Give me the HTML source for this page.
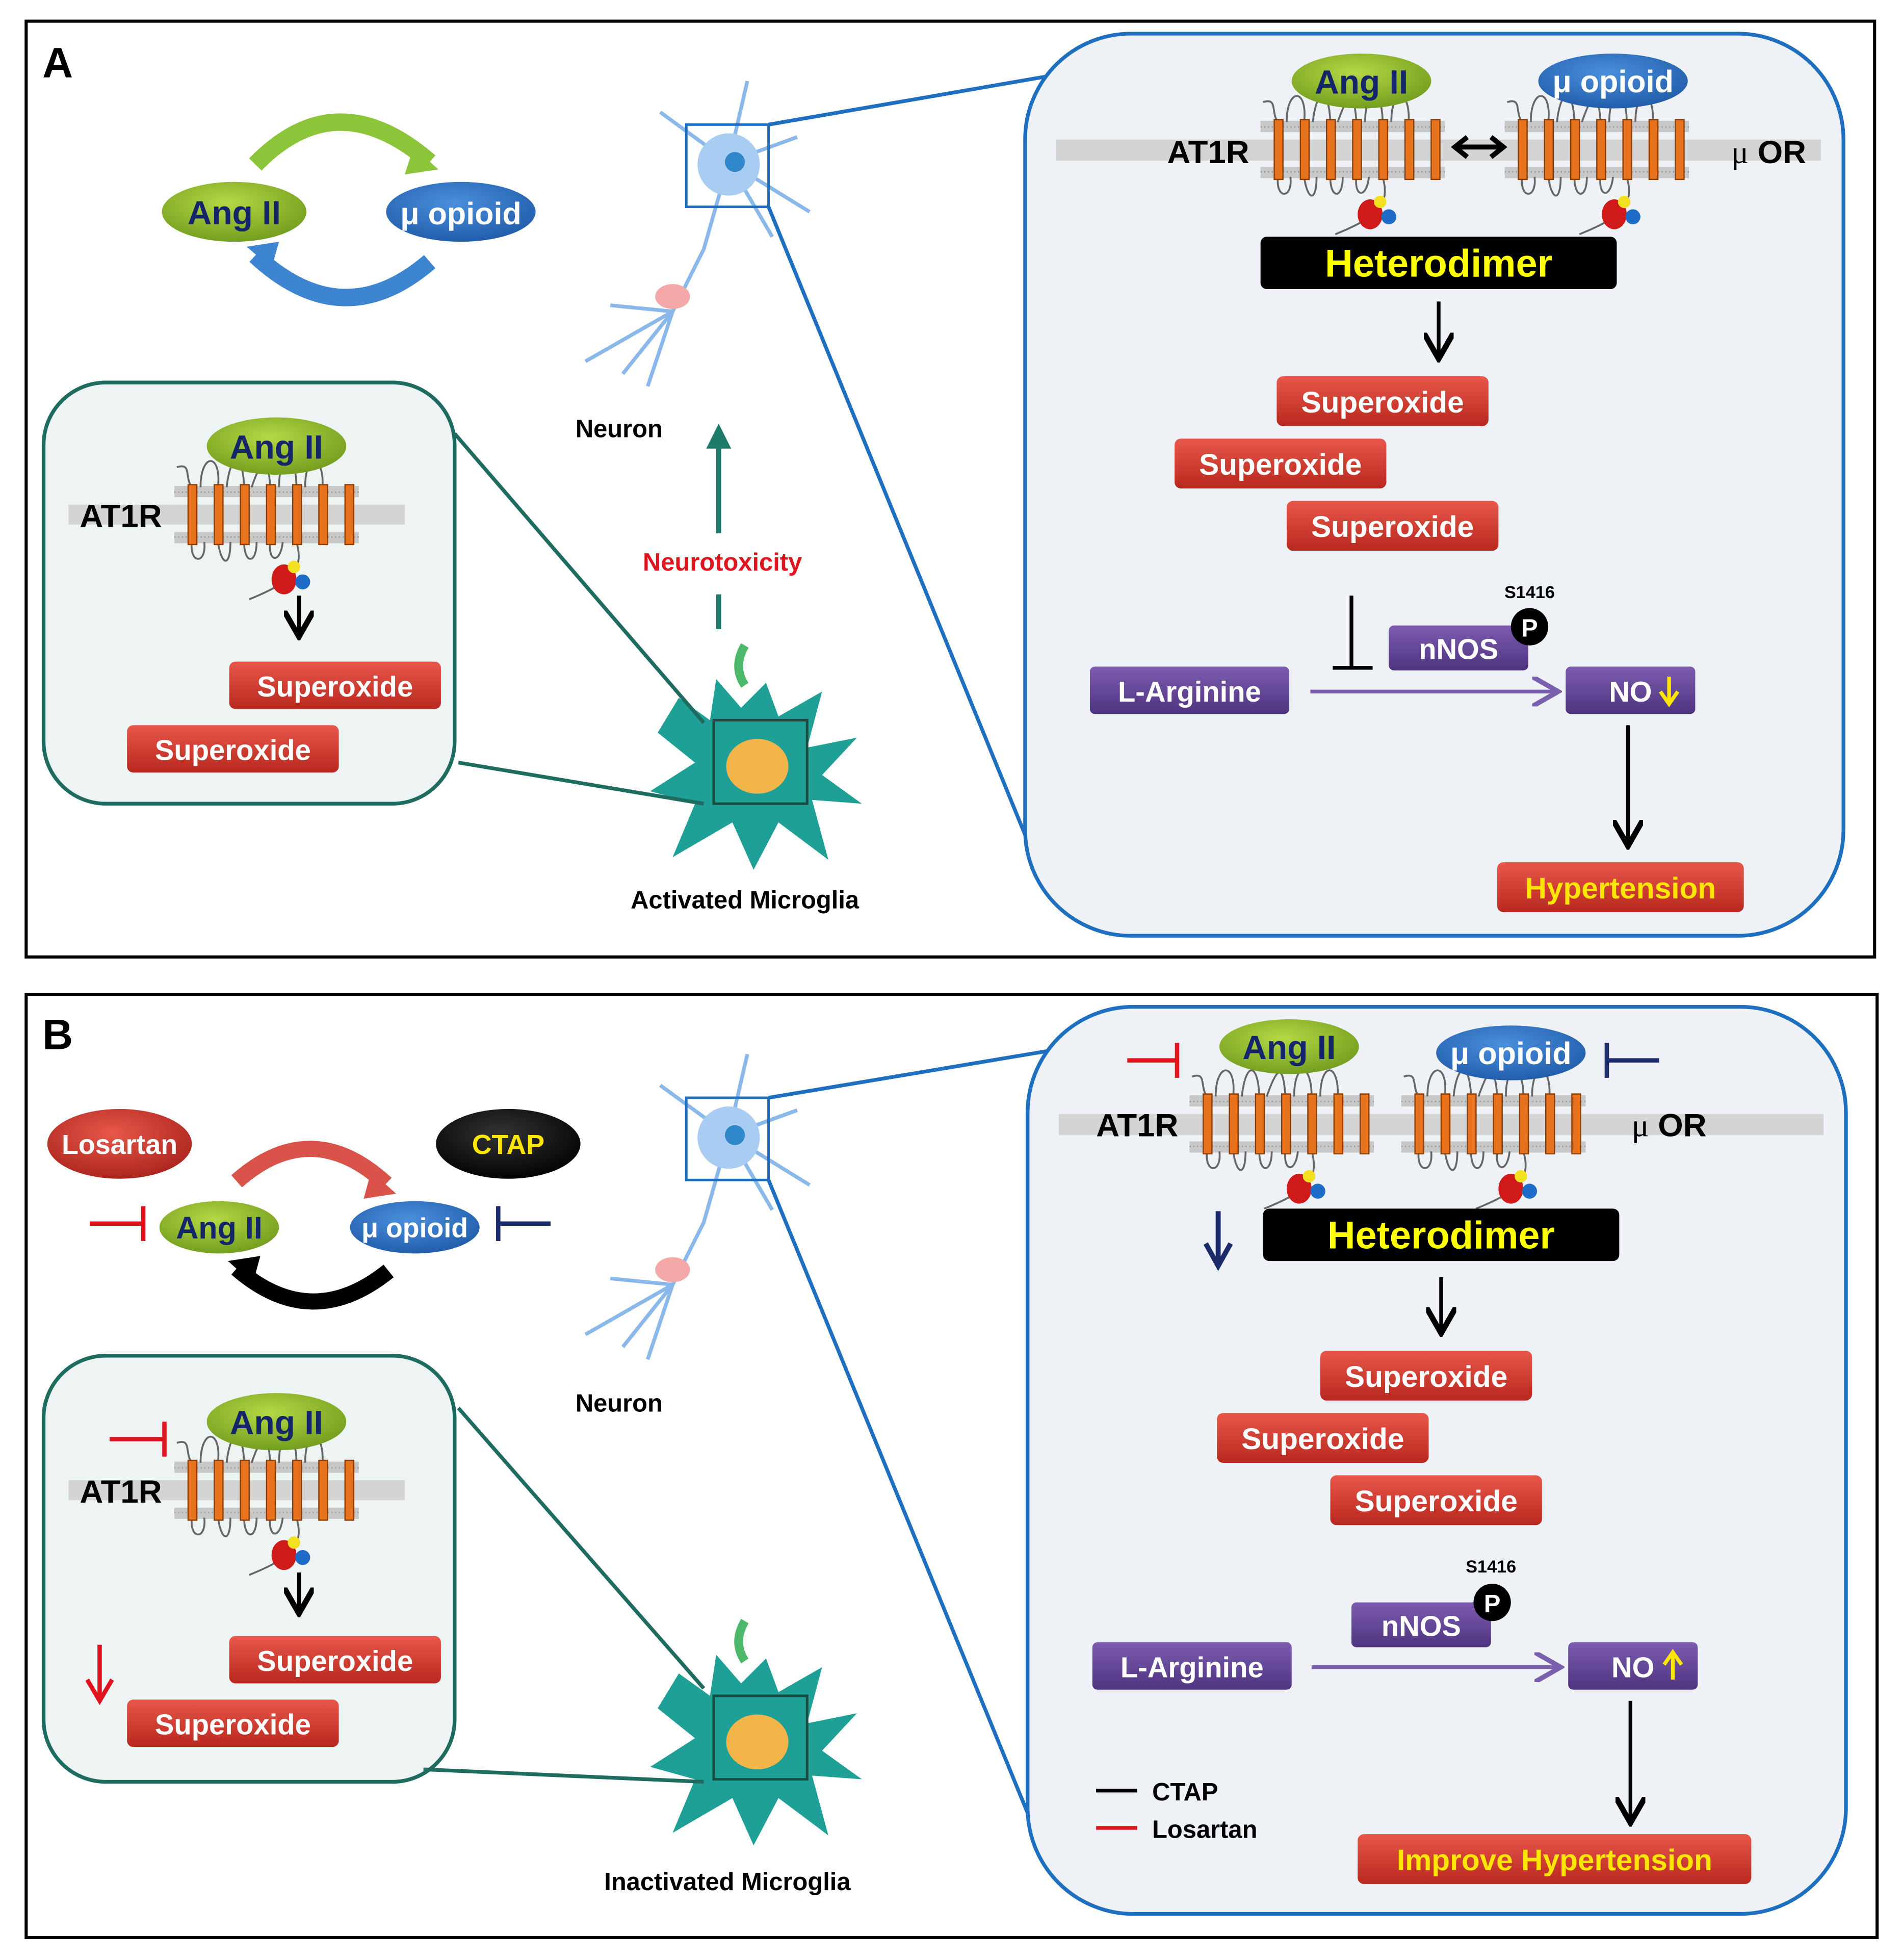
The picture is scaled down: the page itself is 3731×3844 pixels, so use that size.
<!DOCTYPE html>
<html><head><meta charset="utf-8"><style>
html,body{margin:0;padding:0;background:#fff}
svg{display:block}
text{font-family:"Liberation Sans",sans-serif;font-weight:bold}
</style></head><body>
<svg width="3731" height="3844" viewBox="0 0 1527 1573" preserveAspectRatio="none" xmlns="http://www.w3.org/2000/svg">
<defs>
<linearGradient id="gr" x1="0" y1="0" x2="0" y2="1"><stop offset="0" stop-color="#e8574a"/><stop offset="1" stop-color="#b8281e"/></linearGradient>
<linearGradient id="gp" x1="0" y1="0" x2="0" y2="1"><stop offset="0" stop-color="#7d5cb0"/><stop offset="1" stop-color="#4e3480"/></linearGradient>
<radialGradient id="gg" cx="0.45" cy="0.35" r="0.7"><stop offset="0" stop-color="#b5d845"/><stop offset="1" stop-color="#6f9a1c"/></radialGradient>
<radialGradient id="gb" cx="0.45" cy="0.35" r="0.7"><stop offset="0" stop-color="#4a8fdc"/><stop offset="1" stop-color="#1f5aa8"/></radialGradient>
<radialGradient id="gk" cx="0.45" cy="0.35" r="0.7"><stop offset="0" stop-color="#333"/><stop offset="1" stop-color="#000"/></radialGradient>
<radialGradient id="grr" cx="0.45" cy="0.35" r="0.7"><stop offset="0" stop-color="#e8574a"/><stop offset="1" stop-color="#a8221a"/></radialGradient>
<g id="rec">
<rect x="0" y="-23" width="148" height="9" fill="#c8c8c8"/>
<rect x="0" y="14" width="148" height="9" fill="#c8c8c8"/>
<path d="M0,-18 H148 M0,18 H148" stroke="#999" stroke-width="1" stroke-dasharray="1,2"/>
<path d="M2,-38 C14,-42 8,-30 14,-22 M21,-22 C21,-50 38,-50 35,-22 M42,-22 C45,-50 55,-50 56,-22 M62,-22 C70,-45 75,-50 77,-22 M84,-22 C84,-50 98,-50 98,-22 M105,-22 C105,-50 120,-50 119,-22 M14,22 C12,40 26,40 24,22 M35,22 C38,42 45,42 45,22 M56,22 C56,40 66,40 66,22 M77,22 C75,38 85,40 87,22 M98,22 C105,45 92,55 60,68" fill="none" stroke="#666" stroke-width="1.5"/>
<g fill="#e8731e" stroke="#8a3d05" stroke-width="1">
<rect x="11" y="-24" width="7" height="48"/><rect x="32" y="-24" width="7" height="48"/><rect x="53" y="-24" width="7" height="48"/><rect x="74" y="-24" width="7" height="48"/><rect x="95" y="-24" width="7" height="48"/><rect x="116" y="-24" width="7" height="48"/><rect x="137" y="-24" width="7" height="48"/>
</g>
<ellipse cx="88" cy="52" rx="10" ry="12" fill="#d01a1a"/>
<circle cx="96" cy="42" r="5" fill="#f3e020"/>
<circle cx="103" cy="54" r="6" fill="#1e6cc8"/>
</g>
<g id="mg">
<path d="M545,560 L570,578 L575,545 L595,568 L615,548 L625,575 L660,555 L648,600 L688,592 L660,622 L692,645 L652,642 L665,690 L625,660 L605,698 L588,660 L540,688 L558,645 L522,635 L558,612 L528,588Z" fill="#1fa096"/>
<path d="M598,550 Q588,535 598,518" stroke="#4db86a" stroke-width="7" fill="none"/>
<ellipse cx="608" cy="615" rx="25" ry="22" fill="#f3b44a"/>
<rect x="573" y="578" width="75" height="67" fill="none" stroke="#1a4a40" stroke-width="2"/>
</g>
<marker id="ak" markerWidth="8" markerHeight="8" refX="6" refY="4" orient="auto" markerUnits="strokeWidth"><path d="M0,0 L7,4 L0,8" fill="none" stroke="#000" stroke-width="1.5"/></marker>
<marker id="ap" markerWidth="8" markerHeight="8" refX="6" refY="4" orient="auto" markerUnits="strokeWidth"><path d="M0,0 L7,4 L0,8" fill="none" stroke="#7a5fae" stroke-width="1.3"/></marker>
</defs>

<!-- PANEL A -->
<rect x="21" y="17" width="1484" height="751" fill="#fff" stroke="#000" stroke-width="2.5"/>
<text x="34" y="62" font-size="34">A</text>

<path d="M205,132 Q270,65 345,130" fill="none" stroke="#8cc43a" stroke-width="14"/>
<path d="M332,118 L352,136 L325,140Z" fill="#8cc43a"/>
<path d="M345,210 Q275,270 205,205" fill="none" stroke="#3d85d0" stroke-width="14"/>
<path d="M218,215 L198,198 L224,194Z" fill="#3d85d0"/>
<ellipse cx="188" cy="170" rx="58" ry="24" fill="url(#gg)"/>
<text x="188" y="180" font-size="27" fill="#14256a" text-anchor="middle">Ang II</text>
<ellipse cx="370" cy="170" rx="60" ry="24" fill="url(#gb)"/>
<text x="370" y="180" font-size="25" fill="#fff" text-anchor="middle" font-weight="normal">μ <tspan font-weight="bold">opioid</tspan></text>

<g stroke="#8ab8ea" stroke-width="3" fill="none">
<path d="M585,130 L530,90 M585,130 L600,65 M585,130 L640,110 M585,130 L650,170 M585,130 L620,190 M585,130 L565,200 L540,250 M540,250 L490,245 M540,250 L470,290 M540,250 L500,300 M540,250 L520,310"/>
</g>
<circle cx="585" cy="132" r="25" fill="#a9cdf2"/><circle cx="590" cy="130" r="8" fill="#2f86c8"/>
<ellipse cx="540" cy="238" rx="14" ry="10" fill="#f4a8a8"/>
<rect x="551" y="100" width="66" height="66" fill="none" stroke="#1f6fc0" stroke-width="2"/>
<text x="497" y="351" font-size="20" text-anchor="middle">Neuron</text>
<line x1="577" y1="505" x2="577" y2="468" stroke="#1e7a6a" stroke-width="4" stroke-dasharray="28,10"/>
<line x1="577" y1="428" x2="577" y2="355" stroke="#1e7a6a" stroke-width="4"/>
<path d="M567,360 L577,340 L587,360Z" fill="#1e7a6a"/>
<text x="580" y="458" font-size="20" fill="#e0141e" text-anchor="middle">Neurotoxicity</text>

<use href="#mg"/>
<text x="598" y="729" font-size="20" text-anchor="middle">Activated Microglia</text>

<rect x="35" y="307" width="330" height="338" rx="50" fill="#eef4f4" stroke="#1e6b60" stroke-width="3"/>
<line x1="365" y1="348" x2="565" y2="580" stroke="#1e6b60" stroke-width="3"/>
<line x1="368" y1="612" x2="565" y2="645" stroke="#1e6b60" stroke-width="3"/>
<rect x="55" y="405" width="270" height="16" fill="#d4d4d4"/>
<use href="#rec" x="140" y="413"/>
<text x="97" y="423" font-size="26" text-anchor="middle">AT1R</text>
<ellipse cx="222" cy="358" rx="56" ry="23" fill="url(#gg)"/>
<text x="222" y="368" font-size="27" fill="#14256a" text-anchor="middle">Ang II</text>
<line x1="240" y1="478" x2="240" y2="508" stroke="#000" stroke-width="3" marker-end="url(#ak)"/>
<rect x="184" y="531" width="170" height="38" rx="5" fill="url(#gr)"/><text x="269" y="559" font-size="23" fill="#fff" text-anchor="middle">Superoxide</text>
<rect x="102" y="582" width="170" height="38" rx="5" fill="url(#gr)"/><text x="187" y="610" font-size="23" fill="#fff" text-anchor="middle">Superoxide</text>

<line x1="617" y1="100" x2="848" y2="60" stroke="#1f6fc0" stroke-width="3"/>
<line x1="617" y1="166" x2="823" y2="670" stroke="#1f6fc0" stroke-width="3"/>
<rect x="823" y="27" width="657" height="724" rx="85" fill="#eef2f6" stroke="#1f6fc0" stroke-width="3"/>
<rect x="848" y="112" width="614" height="17" fill="#d4d4d4"/>
<use href="#rec" x="1012" y="120"/>
<use href="#rec" x="1208" y="120"/>
<text x="970" y="131" font-size="26" text-anchor="middle">AT1R</text>
<text x="1420" y="131" font-size="26" text-anchor="middle"><tspan font-family="Liberation Serif" font-weight="normal">μ</tspan> OR</text>
<path d="M1170,118 H1205 M1178,110 L1168,118 L1178,126 M1197,110 L1207,118 L1197,126" stroke="#000" stroke-width="4" fill="none"/>
<ellipse cx="1093" cy="65" rx="56" ry="22" fill="url(#gg)"/>
<text x="1093" y="75" font-size="27" fill="#14256a" text-anchor="middle">Ang II</text>
<ellipse cx="1295" cy="65" rx="60" ry="22" fill="url(#gb)"/>
<text x="1295" y="74" font-size="25" fill="#fff" text-anchor="middle" font-weight="normal">μ <tspan font-weight="bold">opioid</tspan></text>
<rect x="1012" y="190" width="286" height="42" rx="5" fill="#000"/>
<text x="1155" y="222" font-size="31" fill="#ffff00" text-anchor="middle">Heterodimer</text>
<line x1="1155" y1="242" x2="1155" y2="285" stroke="#000" stroke-width="3" marker-end="url(#ak)"/>
<rect x="1025" y="302" width="170" height="40" rx="5" fill="url(#gr)"/><text x="1110" y="331" font-size="24" fill="#fff" text-anchor="middle">Superoxide</text>
<rect x="943" y="352" width="170" height="40" rx="5" fill="url(#gr)"/><text x="1028" y="381" font-size="24" fill="#fff" text-anchor="middle">Superoxide</text>
<rect x="1033" y="402" width="170" height="40" rx="5" fill="url(#gr)"/><text x="1118" y="431" font-size="24" fill="#fff" text-anchor="middle">Superoxide</text>
<path d="M1085,478 V536 M1070,536 H1102" stroke="#000" stroke-width="3"/>
<rect x="1115" y="502" width="112" height="36" rx="4" fill="url(#gp)"/><text x="1171" y="529" font-size="23" fill="#fff" text-anchor="middle">nNOS</text>
<circle cx="1228" cy="503" r="15" fill="#000"/><text x="1228" y="511" font-size="20" fill="#fff" text-anchor="middle" font-weight="normal">P</text>
<text x="1228" y="480" font-size="14" text-anchor="middle">S1416</text>
<rect x="875" y="535" width="160" height="38" rx="4" fill="url(#gp)"/><text x="955" y="563" font-size="23" fill="#fff" text-anchor="middle">L-Arginine</text>
<line x1="1052" y1="555" x2="1248" y2="555" stroke="#7a5fae" stroke-width="3" marker-end="url(#ap)"/>
<rect x="1257" y="535" width="104" height="38" rx="4" fill="url(#gp)"/><text x="1309" y="563" font-size="23" fill="#fff" text-anchor="middle">NO</text>
<path d="M1340,543 V563 M1333,555 L1340,565 L1347,555" stroke="#ffe600" stroke-width="3" fill="none"/>
<line x1="1307" y1="582" x2="1307" y2="676" stroke="#000" stroke-width="3" marker-end="url(#ak)"/>
<rect x="1202" y="692" width="198" height="40" rx="5" fill="url(#gr)"/><text x="1301" y="721" font-size="24" fill="#ffe600" text-anchor="middle">Hypertension</text>

<!-- PANEL B -->
<rect x="21" y="798" width="1486" height="757" fill="#fff" stroke="#000" stroke-width="2.5"/>
<text x="34" y="842" font-size="34">B</text>

<ellipse cx="96" cy="918" rx="58" ry="28" fill="url(#grr)"/><text x="96" y="926" font-size="22" fill="#fff" text-anchor="middle">Losartan</text>
<ellipse cx="408" cy="918" rx="58" ry="28" fill="url(#gk)"/><text x="408" y="926" font-size="22" fill="#ffe600" text-anchor="middle">CTAP</text>
<path d="M190,948 Q250,895 310,950" fill="none" stroke="#d9534a" stroke-width="13"/>
<path d="M298,940 L318,958 L292,962Z" fill="#d9534a"/>
<path d="M312,1020 Q250,1070 190,1018" fill="none" stroke="#000" stroke-width="13"/>
<path d="M203,1030 L183,1012 L209,1008Z" fill="#000"/>
<ellipse cx="176" cy="985" rx="48" ry="21" fill="url(#gg)"/><text x="176" y="994" font-size="25" fill="#14256a" text-anchor="middle">Ang II</text>
<ellipse cx="333" cy="985" rx="52" ry="21" fill="url(#gb)"/><text x="333" y="993" font-size="22" fill="#fff" text-anchor="middle" font-weight="normal">μ <tspan font-weight="bold">opioid</tspan></text>
<path d="M72,982 H115 M115,968 V996" stroke="#e0141e" stroke-width="3.5"/>
<path d="M442,982 H400 M400,968 V996" stroke="#1a2a6a" stroke-width="3.5"/>

<g stroke="#8ab8ea" stroke-width="3" fill="none">
<path d="M585,911 L530,871 M585,911 L600,846 M585,911 L640,891 M585,911 L650,951 M585,911 L620,971 M585,911 L565,981 L540,1031 M540,1031 L490,1026 M540,1031 L470,1071 M540,1031 L500,1081 M540,1031 L520,1091"/>
</g>
<circle cx="585" cy="913" r="25" fill="#a9cdf2"/><circle cx="590" cy="911" r="8" fill="#2f86c8"/>
<ellipse cx="540" cy="1019" rx="14" ry="10" fill="#f4a8a8"/>
<rect x="551" y="881" width="66" height="66" fill="none" stroke="#1f6fc0" stroke-width="2"/>
<text x="497" y="1133" font-size="20" text-anchor="middle">Neuron</text>

<use href="#mg" y="783"/>
<text x="584" y="1517" font-size="20" text-anchor="middle">Inactivated Microglia</text>

<rect x="35" y="1088" width="330" height="342" rx="50" fill="#eef4f4" stroke="#1e6b60" stroke-width="3"/>
<line x1="368" y1="1130" x2="565" y2="1355" stroke="#1e6b60" stroke-width="3"/>
<line x1="340" y1="1420" x2="565" y2="1430" stroke="#1e6b60" stroke-width="3"/>
<rect x="55" y="1188" width="270" height="16" fill="#d4d4d4"/>
<use href="#rec" x="140" y="1196"/>
<text x="97" y="1206" font-size="26" text-anchor="middle">AT1R</text>
<ellipse cx="222" cy="1141" rx="56" ry="23" fill="url(#gg)"/>
<text x="222" y="1151" font-size="27" fill="#14256a" text-anchor="middle">Ang II</text>
<path d="M88,1155 H132 M132,1141 V1169" stroke="#e0141e" stroke-width="3.5"/>
<line x1="240" y1="1262" x2="240" y2="1292" stroke="#000" stroke-width="3" marker-end="url(#ak)"/>
<path d="M80,1320 V1362 M70,1348 L80,1365 L90,1348" stroke="#e0141e" stroke-width="3.5" fill="none"/>
<rect x="184" y="1313" width="170" height="38" rx="5" fill="url(#gr)"/><text x="269" y="1341" font-size="23" fill="#fff" text-anchor="middle">Superoxide</text>
<rect x="102" y="1364" width="170" height="38" rx="5" fill="url(#gr)"/><text x="187" y="1392" font-size="23" fill="#fff" text-anchor="middle">Superoxide</text>

<line x1="617" y1="881" x2="850" y2="842" stroke="#1f6fc0" stroke-width="3"/>
<line x1="617" y1="947" x2="825" y2="1455" stroke="#1f6fc0" stroke-width="3"/>
<rect x="825" y="808" width="657" height="728" rx="85" fill="#eef2f6" stroke="#1f6fc0" stroke-width="3"/>
<rect x="850" y="894" width="614" height="17" fill="#d4d4d4"/>
<use href="#rec" x="955" y="902"/>
<use href="#rec" x="1125" y="902"/>
<text x="913" y="912" font-size="26" text-anchor="middle">AT1R</text>
<text x="1340" y="912" font-size="26" text-anchor="middle"><tspan font-family="Liberation Serif" font-weight="normal">μ</tspan> OR</text>
<ellipse cx="1035" cy="840" rx="56" ry="22" fill="url(#gg)"/>
<text x="1035" y="850" font-size="27" fill="#14256a" text-anchor="middle">Ang II</text>
<ellipse cx="1213" cy="845" rx="60" ry="22" fill="url(#gb)"/>
<text x="1213" y="854" font-size="25" fill="#fff" text-anchor="middle" font-weight="normal">μ <tspan font-weight="bold">opioid</tspan></text>
<path d="M905,851 H945 M945,837 V865" stroke="#e0141e" stroke-width="3.5"/>
<path d="M1332,851 H1290 M1290,837 V865" stroke="#1a2a6a" stroke-width="3.5"/>
<path d="M978,972 V1012 M968,998 L978,1016 L988,998" stroke="#1a2a6a" stroke-width="4" fill="none"/>
<rect x="1014" y="970" width="286" height="42" rx="5" fill="#000"/>
<text x="1157" y="1002" font-size="31" fill="#ffff00" text-anchor="middle">Heterodimer</text>
<line x1="1157" y1="1025" x2="1157" y2="1067" stroke="#000" stroke-width="3" marker-end="url(#ak)"/>
<rect x="1060" y="1084" width="170" height="40" rx="5" fill="url(#gr)"/><text x="1145" y="1113" font-size="24" fill="#fff" text-anchor="middle">Superoxide</text>
<rect x="977" y="1134" width="170" height="40" rx="5" fill="url(#gr)"/><text x="1062" y="1163" font-size="24" fill="#fff" text-anchor="middle">Superoxide</text>
<rect x="1068" y="1184" width="170" height="40" rx="5" fill="url(#gr)"/><text x="1153" y="1213" font-size="24" fill="#fff" text-anchor="middle">Superoxide</text>
<rect x="1085" y="1286" width="112" height="36" rx="4" fill="url(#gp)"/><text x="1141" y="1313" font-size="23" fill="#fff" text-anchor="middle">nNOS</text>
<circle cx="1198" cy="1286" r="15" fill="#000"/><text x="1198" y="1294" font-size="20" fill="#fff" text-anchor="middle" font-weight="normal">P</text>
<text x="1197" y="1262" font-size="14" text-anchor="middle">S1416</text>
<rect x="877" y="1318" width="160" height="38" rx="4" fill="url(#gp)"/><text x="957" y="1346" font-size="23" fill="#fff" text-anchor="middle">L-Arginine</text>
<line x1="1053" y1="1338" x2="1250" y2="1338" stroke="#7a5fae" stroke-width="3" marker-end="url(#ap)"/>
<rect x="1259" y="1318" width="104" height="38" rx="4" fill="url(#gp)"/><text x="1311" y="1346" font-size="23" fill="#fff" text-anchor="middle">NO</text>
<path d="M1343,1348 V1328 M1336,1336 L1343,1326 L1350,1336" stroke="#ffe600" stroke-width="3" fill="none"/>
<line x1="1309" y1="1365" x2="1309" y2="1460" stroke="#000" stroke-width="3" marker-end="url(#ak)"/>
<rect x="1090" y="1472" width="316" height="40" rx="5" fill="url(#gr)"/><text x="1248" y="1501" font-size="24" fill="#ffe600" text-anchor="middle">Improve Hypertension</text>
<line x1="880" y1="1437" x2="913" y2="1437" stroke="#000" stroke-width="3"/>
<line x1="880" y1="1467" x2="913" y2="1467" stroke="#e0141e" stroke-width="3"/>
<text x="925" y="1445" font-size="20">CTAP</text>
<text x="925" y="1475" font-size="20">Losartan</text>
</svg>
</body></html>
